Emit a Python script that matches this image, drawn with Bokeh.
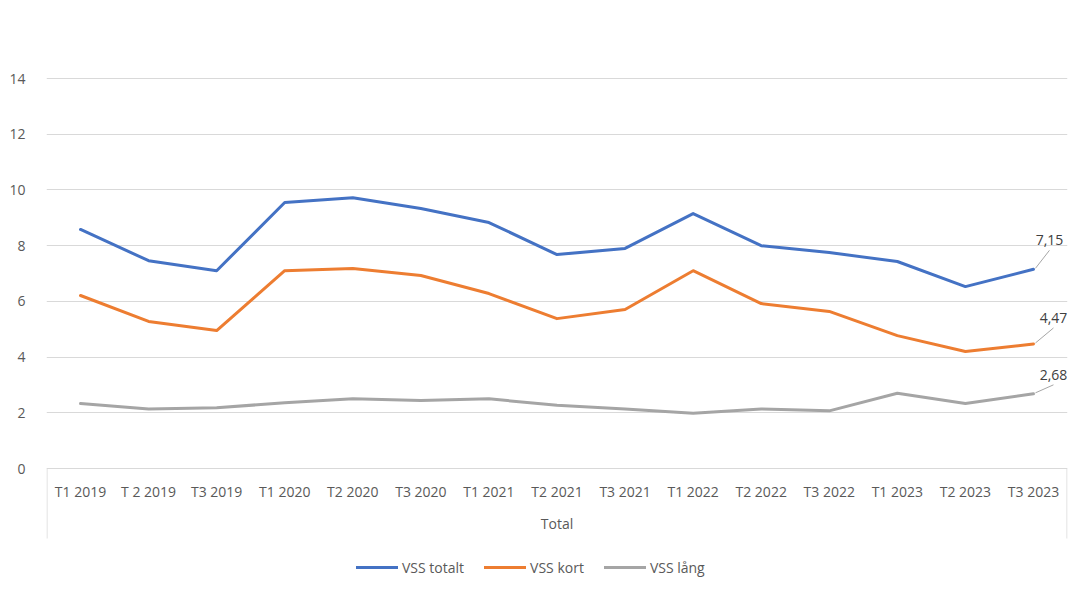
from bokeh.plotting import figure
from bokeh.models import FactorRange, Range1d, FixedTicker, Legend, LegendItem
from bokeh.core.properties import value
from bokeh.embed import file_html
from bokeh.resources import INLINE

# ---------------- data ----------------
categories = ["T1 2019", "T 2 2019", "T3 2019", "T1 2020", "T2 2020", "T3 2020",
              "T1 2021", "T2 2021", "T3 2021", "T1 2022", "T2 2022", "T3 2022",
              "T1 2023", "T2 2023", "T3 2023"]
vss_totalt = [8.58, 7.46, 7.10, 9.55, 9.72, 9.33, 8.83, 7.68, 7.90, 9.15, 8.00, 7.75, 7.43, 6.53, 7.15]
vss_kort = [6.21, 5.28, 4.95, 7.10, 7.18, 6.93, 6.28, 5.38, 5.71, 7.10, 5.92, 5.64, 4.77, 4.20, 4.47]
vss_lang = [2.33, 2.14, 2.18, 2.36, 2.50, 2.44, 2.50, 2.27, 2.14, 1.98, 2.14, 2.07, 2.70, 2.33, 2.68]
group_label = "Total"
series_names = ["VSS totalt", "VSS kort", "VSS lång"]
y_ticks = [0, 2, 4, 6, 8, 10, 12, 14]
last_labels = ["7,15", "4,47", "2,68"]

# ---------------- layout constants ----------------
W, H = 1068, 590
TOP = 77
LEFT = 46
RIGHT = 1
FH = H - TOP
FW = W - LEFT - RIGHT
PX_Y = 390.0 / 14.0            # pixels per y unit
PX_X = FW / len(categories)    # pixels per category
ZERO_FROM_TOP = 391            # zero line distance from frame top

FONT = "Open Sans"
AX_COLOR = "#595959"
GRID = "#d9d9d9"
colors = ["#4472C4", "#ED7D31", "#A5A5A5"]

p = figure(width=W, height=H, output_backend="svg", toolbar_location=None,
           x_range=FactorRange(factors=categories, range_padding=0),
           y_range=Range1d(-(FH - ZERO_FROM_TOP) / PX_Y, 14 + 1.0 / PX_Y),
           x_axis_location=None, min_border_top=TOP, min_border_left=LEFT,
           min_border_right=RIGHT, min_border_bottom=0)
p.outline_line_color = None
p.background_fill_color = "white"
p.border_fill_color = "white"

ticker = FixedTicker(ticks=y_ticks)
p.yaxis.ticker = ticker
p.yaxis.axis_line_color = None
p.yaxis.major_tick_line_color = None
p.yaxis.minor_tick_line_color = None
p.yaxis.major_label_standoff = 15
p.yaxis.major_label_text_font = FONT
p.yaxis.major_label_text_font_size = "14px"
p.yaxis.major_label_text_color = AX_COLOR
p.ygrid.ticker = ticker
p.ygrid.grid_line_color = GRID
p.ygrid.grid_line_width = 1
p.xgrid.visible = False

# category axis box (Excel style)
edge = 0.5 / PX_X
box_bottom = -70.0 / PX_Y
p.segment(x0=[edge, len(categories) - edge], y0=[0, 0],
          x1=[edge, len(categories) - edge], y1=[box_bottom, box_bottom],
          line_color=GRID, line_width=1)

# category labels
p.text(x=categories, y=[-23.0 / PX_Y] * len(categories), text=categories,
       text_font=value(FONT), text_font_size="14px", text_color=AX_COLOR,
       text_align="center", text_baseline="middle")
p.text(x=[len(categories) / 2.0], y=[-55.0 / PX_Y], text=[group_label],
       text_font=value(FONT), text_font_size="14px", text_color=AX_COLOR,
       text_align="center", text_baseline="middle")

# series
renderers = []
for vals, col in zip([vss_totalt, vss_kort, vss_lang], colors):
    r = p.line(x=categories, y=vals, line_color=col, line_width=3,
               line_join="round", line_cap="round")
    renderers.append(r)

# last-point data labels with leader lines
last_x = len(categories) - 0.5
lab_dx = [16, 20, 20]
lab_dy = [29, 26, 19]
for vals, lab, dx, dy in zip([vss_totalt, vss_kort, vss_lang], last_labels, lab_dx, lab_dy):
    v = vals[-1]
    p.segment(x0=[last_x + 2.0 / PX_X], y0=[v + 1.0 / PX_Y],
              x1=[last_x + dx / PX_X], y1=[v + (dy - 10) / PX_Y],
              line_color="#A6A6A6", line_width=1)
    p.text(x=[last_x + dx / PX_X], y=[v + dy / PX_Y], text=[lab],
           text_font=value(FONT), text_font_size="14px", text_color="#404040",
           text_align="center", text_baseline="middle")

legend = Legend(items=[LegendItem(label=n, renderers=[r]) for n, r in zip(series_names, renderers)],
                orientation="horizontal", location=(310, 13))
legend.glyph_width = 42
legend.glyph_height = 20
legend.label_standoff = 4
legend.spacing = 20
legend.padding = 0
legend.margin = 0
legend.border_line_color = None
legend.background_fill_alpha = 0
legend.label_text_font = FONT
legend.label_text_font_size = "14px"
legend.label_text_color = AX_COLOR
p.add_layout(legend)

open("out.html", "w").write(file_html(p, INLINE))
